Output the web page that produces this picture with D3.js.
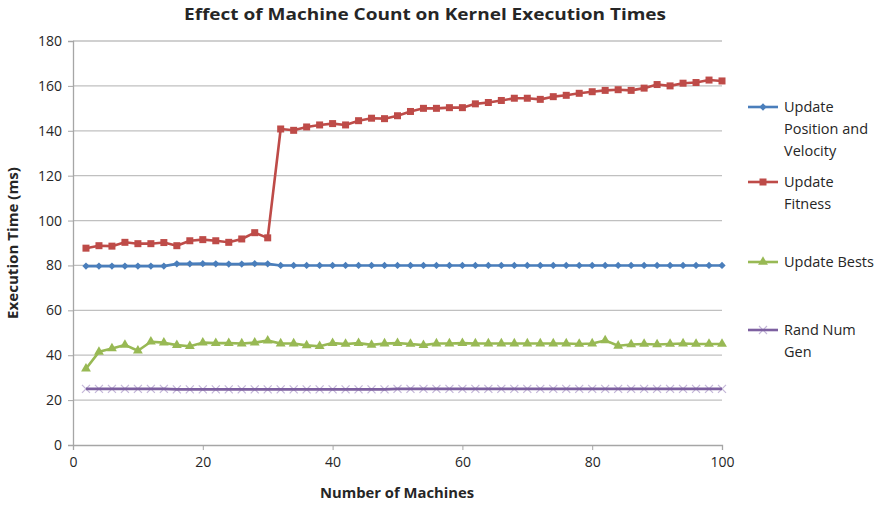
<!DOCTYPE html>
<html>
<head>
<meta charset="utf-8">
<title>Kernel Execution Times</title>
<style>
body { margin: 0; background: #fff; }
svg text { font-family: "Open Sans", "Liberation Sans", sans-serif; fill: #262626; }
.axis path, .axis line { stroke: #a6a6a6; }
.grid line { stroke: #c0c0c0; stroke-width: 1.3; }
</style>
</head>
<body>
<script src="https://cdn.jsdelivr.net/npm/d3@7"></script>
<script>
// machines counted, 2..100
var machines = [2,4,6,8,10,12,14,16,18,20,22,24,26,28,30,32,34,36,38,40,42,44,46,48,50,
                52,54,56,58,60,62,64,66,68,70,72,74,76,78,80,82,84,86,88,90,92,94,96,98,100];

var posVel = [79.7,79.7,79.7,79.7,79.7,79.7,79.7,80.7,80.7,80.8,80.7,80.6,80.6,80.8,80.7,80,80,80,80,80,80,80,80,80,80,
              80,80,80,80,80,80,80,80,80,80,80,80,80,80,80,80,80,80,80,80,80,80,80,80,80];
var fitness = [87.7,88.8,88.6,90.3,89.7,89.7,90.2,88.8,91,91.5,91,90.3,91.8,94.6,92.3,140.8,140.2,141.7,142.6,143.2,142.6,144.5,145.6,145.4,146.7,
               148.6,150,150,150.3,150.3,152,152.6,153.5,154.5,154.5,154,155.2,155.8,156.7,157.4,158,158.3,158,159,160.6,160,161.2,161.5,162.6,162.2];
var bests = [34,41.5,43,44.6,42,46,45.6,44.5,44,45.6,45.4,45.4,45.2,45.6,46.5,45.2,45.2,44.4,44,45.4,45,45.4,44.6,45.2,45.4,
             45,44.5,45.2,45.2,45.4,45.2,45.2,45.2,45.2,45.2,45.2,45.2,45.2,45,45.2,46.6,44.2,44.8,45,44.8,45,45.2,45,45,45];
var randGen = [25,25,25,25,25,25,25,24.8,24.8,24.8,24.8,24.8,24.8,24.8,24.8,24.8,24.8,24.8,24.8,24.8,24.8,24.8,24.8,24.8,25,
               25,25,25,25,25,25,25,25,25,25,25,25,25,25,25,25,25,25,25,25,25,25,25,25,25];

var seriesNames = [["Update", "Position and", "Velocity"], ["Update", "Fitness"], ["Update Bests"], ["Rand Num", "Gen"]];
var seriesColors = ["#4a7ebb", "#be4b48", "#98b954", "#7d60a0"];
var markerKinds = ["diamond", "square", "triangle", "cross"];
var seriesData = [posVel, fitness, bests, randGen];

var xTicks = [0, 20, 40, 60, 80, 100];
var yTicks = [0, 20, 40, 60, 80, 100, 120, 140, 160, 180];

var W = 882, H = 505;
var plotL = 73, plotR = 722, plotT = 41, plotB = 445;

var svg = d3.select("body").append("svg")
    .attr("width", W).attr("height", H);

var x = d3.scaleLinear().domain([0, 100]).range([plotL, plotR]);
var y = d3.scaleLinear().domain([0, 180]).range([plotB, plotT]);

// gridlines
svg.append("g").attr("class", "grid")
  .selectAll("line")
  .data(yTicks.slice(1))
  .enter().append("line")
    .attr("x1", plotL).attr("x2", plotR)
    .attr("y1", function(d){ return y(d); })
    .attr("y2", function(d){ return y(d); });

// axes
var axisY = d3.axisLeft(y).tickValues(yTicks).tickSize(5).tickPadding(6);
var gy = svg.append("g").attr("class", "axis")
    .attr("transform", "translate(" + plotL + ",0)")
    .call(axisY);
gy.select(".domain").attr("stroke-width", 1.3);
gy.selectAll("text").attr("font-size", 14);

var axisX = d3.axisBottom(x).tickValues(xTicks).tickSize(5).tickPadding(7);
var gx = svg.append("g").attr("class", "axis")
    .attr("transform", "translate(0," + plotB + ")")
    .call(axisX);
gx.select(".domain").attr("stroke-width", 1.3);
gx.selectAll("text").attr("font-size", 14);

// titles
svg.append("text")
    .attr("x", 425).attr("y", 20)
    .attr("text-anchor", "middle")
    .attr("font-size", 15.5).attr("font-weight", "bold")
    .attr("textLength", 482).attr("lengthAdjust", "spacingAndGlyphs")
    .text("Effect of Machine Count on Kernel Execution Times");

svg.append("text")
    .attr("x", 397).attr("y", 498)
    .attr("text-anchor", "middle")
    .attr("font-size", 13.5).attr("font-weight", "bold")
    .attr("textLength", 154).attr("lengthAdjust", "spacingAndGlyphs")
    .text("Number of Machines");

svg.append("text")
    .attr("transform", "translate(18,243) rotate(-90)")
    .attr("text-anchor", "middle")
    .attr("font-size", 13.5).attr("font-weight", "bold")
    .attr("textLength", 152).attr("lengthAdjust", "spacingAndGlyphs")
    .text("Execution Time (ms)");

// marker drawing
function drawMarker(g, kind, color, cx, cy) {
  if (kind === "diamond") {
    g.append("path")
      .attr("d", d3.symbol().type(d3.symbolDiamond2).size(34)())
      .attr("transform", "translate(" + cx + "," + cy + ")")
      .attr("fill", color);
  } else if (kind === "square") {
    g.append("rect")
      .attr("x", cx - 3.5).attr("y", cy - 3.5)
      .attr("width", 7).attr("height", 7)
      .attr("fill", color);
  } else if (kind === "triangle") {
    g.append("path")
      .attr("d", d3.symbol().type(d3.symbolTriangle).size(42)())
      .attr("transform", "translate(" + cx + "," + cy + ")")
      .attr("fill", color);
  } else {
    g.append("path")
      .attr("d", "M-4,-4L4,4M-4,4L4,-4")
      .attr("transform", "translate(" + cx + "," + cy + ")")
      .attr("stroke", "#c4b7d8").attr("stroke-width", 1.2).attr("fill", "none");
  }
}

var line = d3.line()
    .x(function(d, i){ return x(machines[i]); })
    .y(function(d){ return y(d); });

seriesData.forEach(function(vals, s) {
  var g = svg.append("g");
  if (markerKinds[s] === "cross") {
    // crosses sit behind the line
    vals.forEach(function(v, i){ drawMarker(g, "cross", seriesColors[s], x(machines[i]), y(v)); });
  }
  g.append("path")
    .datum(vals)
    .attr("d", line)
    .attr("fill", "none")
    .attr("stroke", seriesColors[s])
    .attr("stroke-width", 2.6)
    .attr("stroke-linejoin", "round");
  if (markerKinds[s] !== "cross") {
    vals.forEach(function(v, i){ drawMarker(g, markerKinds[s], seriesColors[s], x(machines[i]), y(v)); });
  }
});

// legend
var legendY = [107, 182, 262, 330];
seriesNames.forEach(function(lines, s) {
  var g = svg.append("g").attr("transform", "translate(748," + legendY[s] + ")");
  if (markerKinds[s] === "cross") drawMarker(g, "cross", seriesColors[s], 15, 0);
  g.append("line").attr("x1", 0).attr("x2", 30).attr("y1", 0).attr("y2", 0)
    .attr("stroke", seriesColors[s]).attr("stroke-width", 2.6);
  if (markerKinds[s] !== "cross") drawMarker(g, markerKinds[s], seriesColors[s], 15, 0);
  lines.forEach(function(t, k) {
    g.append("text")
      .attr("x", 36).attr("y", 5 + k * 22)
      .attr("font-size", 14.5)
      .text(t);
  });
});
</script>
</body>
</html>
